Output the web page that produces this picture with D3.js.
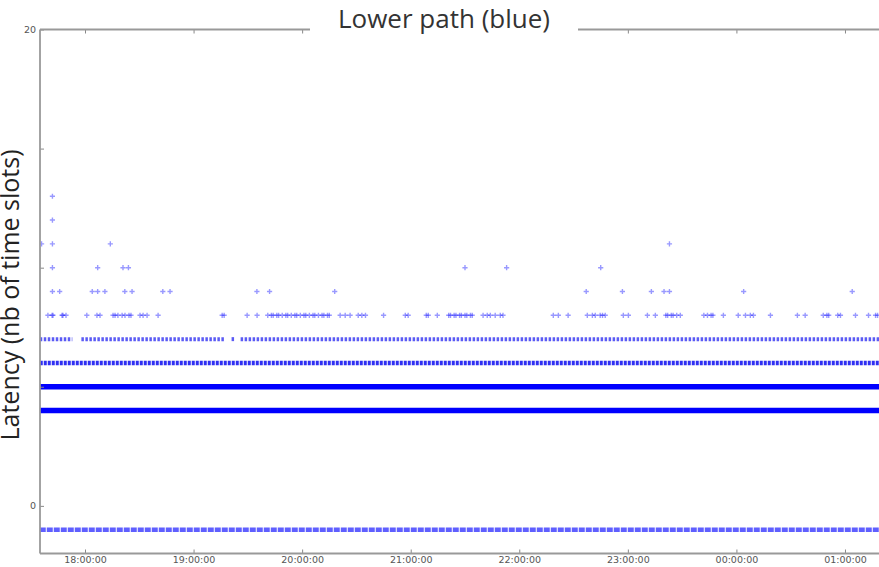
<!DOCTYPE html>
<html>
<head>
<meta charset="utf-8">
<script src="https://cdn.jsdelivr.net/npm/d3@7"></script>
<style>
  body { margin: 0; background: #fff; }
  .tick text { font-family: "DejaVu Sans", sans-serif; font-size: 9.5px; fill: #555; }
  .tick line { stroke: #888; }
  .domain { display: none; }
</style>
</head>
<body>
<div id="chart"></div>
<script>
// tick values and labels (minutes after 18:00)
var xTickMinutes = [0, 60, 120, 180, 240, 300, 360, 420];
var xTickLabels = ["18:00:00", "19:00:00", "20:00:00", "21:00:00", "22:00:00", "23:00:00", "00:00:00", "01:00:00"];
var yTickValues = [0, 5, 10, 15, 20];

// sparse latency points, minutes after 18:00 for each latency level
var lat13 = [-18];
var lat12 = [-18];
var lat11 = [-24, -18, 14, 323];
var lat10 = [-18, 7, 21, 24, 210, 233, 285];
var lat9 = [-18, -14, 4, 7, 11, 22, 26, 43, 47, 95, 102, 138, 277, 297, 313, 320, 323, 364, 424];
var lat8 = [-20.5, -18.2, -17.7, -12.7, -12.2, -10.5, 1, 6.6, 8.3, 15.5, 16.6, 18.2, 20.5, 22.1, 24.3, 25.4,
  30.4, 32.1, 34.3, 40.4, 75.8, 76.9, 89.6, 95.1,
  101, 103, 104, 106, 107, 109, 111, 112, 114, 116, 117, 119, 121, 122, 124, 126, 127, 129, 131, 132, 134, 135,
  141, 143.8, 146.5, 151, 153, 155, 165, 177, 178.6, 188.6, 189.7, 194.7,
  201, 202, 204, 205, 207, 208, 210, 211, 213, 214,
  220, 222.3, 224, 226.7, 229.5, 231, 258.8, 261.6, 267, 277.6, 280.4, 282, 284.7, 286, 287.5,
  297.5, 300.3, 310.8, 315.2, 321, 322, 324, 325, 327, 329, 342, 344, 346, 347,
  352.8, 361, 365, 367.7, 369.4, 378.8, 393.7, 398, 408, 410, 411, 416, 417.5, 425.8, 433, 436.9, 438];

// dense latency levels: runs of [start, end] minutes
var band7 = [[-25, -7], [-2, 77], [81, 83], [86, 440]];
var band6 = [[-25, 440]];
var band5 = [[-25, 440]];
var band4 = [[-25, 440]];
var bandMinus1 = [[-25, 440]];

// svg area
var svgWidth = 879;
var svgHeight = 567;
var plot = { left: 40, right: 879, top: 29.5, bottom: 553.5 };

var svg = d3.select("#chart").append("svg")
    .attr("width", svgWidth)
    .attr("height", svgHeight);

var base = new Date(2014, 0, 1, 18, 0, 0);
function toDate(m) { return new Date(base.getTime() + m * 60000); }

// scales
var xscale = d3.scaleTime()
    .domain([toDate(-24.87), toDate(438.8)])
    .range([plot.left, plot.right]);
var yscale = d3.scaleLinear()
    .domain([-2, 20])
    .range([plot.bottom, plot.top]);

svg.append("clipPath").attr("id", "clip")
  .append("rect")
    .attr("x", plot.left).attr("y", plot.top)
    .attr("width", plot.right - plot.left)
    .attr("height", plot.bottom - plot.top);

var marks = svg.append("g").attr("clip-path", "url(#clip)");

// dense bands
function drawBand(runs, level, width, color, opacity, dash) {
  marks.append("g").selectAll("line")
    .data(runs)
    .enter()
    .append("line")
    .attr("x1", d => xscale(toDate(d[0])))
    .attr("x2", d => xscale(toDate(d[1])))
    .attr("y1", yscale(level))
    .attr("y2", yscale(level))
    .attr("stroke", color)
    .attr("stroke-width", width)
    .attr("stroke-opacity", opacity)
    .attr("stroke-dasharray", dash);
}
drawBand(band4, 4, 5.5, "#0000ff", 1, null);
drawBand(band5, 5, 5.5, "#0000ff", 1, null);
drawBand(band6, 6, 4.5, "#0a0af0", 0.85, "3,1");
drawBand(band7, 7, 4, "#1515f0", 0.7, "2.5,1.5");
drawBand(bandMinus1, -1, 4.5, "#2a2aff", 0.75, "6,1");

// sparse "+" markers
var sparse = [];
[[8, lat8], [9, lat9], [10, lat10], [11, lat11], [12, lat12], [13, lat13]].forEach(function(r) {
  r[1].forEach(function(m) { sparse.push({ t: m, v: r[0] }); });
});

marks.append("g").selectAll("path")
  .data(sparse)
  .enter()
  .append("path")
  .attr("d", d => {
    var x = xscale(toDate(d.t)), y = yscale(d.v);
    return `M${x - 2.6},${y}H${x + 2.6}M${x},${y - 2.6}V${y + 2.6}`;
  })
  .attr("stroke", "#0000ff")
  .attr("stroke-width", 1.4)
  .attr("stroke-opacity", 0.4)
  .attr("fill", "none");

// axes, ticks pointing inward like matplotlib
var xAxisBottom = d3.axisBottom(xscale)
    .tickValues(xTickMinutes.map(toDate))
    .tickFormat((d, i) => xTickLabels[i])
    .tickSizeInner(-4).tickSizeOuter(0).tickPadding(3);
svg.append("g").attr("transform", `translate(0, ${plot.bottom})`).call(xAxisBottom);

var xAxisTop = d3.axisTop(xscale)
    .tickValues(xTickMinutes.map(toDate))
    .tickFormat("")
    .tickSizeInner(-4).tickSizeOuter(0);
svg.append("g").attr("transform", `translate(0, ${plot.top})`).call(xAxisTop);

var yAxis = d3.axisLeft(yscale)
    .tickValues(yTickValues)
    .tickSizeInner(-4).tickSizeOuter(0).tickPadding(4);
svg.append("g").attr("transform", `translate(${plot.left}, 0)`).call(yAxis);

// spines
svg.append("line")
    .attr("x1", plot.left).attr("x2", plot.right)
    .attr("y1", plot.top).attr("y2", plot.top)
    .attr("stroke", "#999").attr("stroke-width", 1.8);
svg.append("line")
    .attr("x1", plot.left).attr("x2", plot.right)
    .attr("y1", plot.bottom).attr("y2", plot.bottom)
    .attr("stroke", "#999").attr("stroke-width", 1.8);
svg.append("line")
    .attr("x1", plot.left).attr("x2", plot.left)
    .attr("y1", plot.top).attr("y2", plot.bottom)
    .attr("stroke", "#999").attr("stroke-width", 1.8);

// title in a white box over the top spine
svg.append("rect")
    .attr("x", 310).attr("y", 0).attr("width", 268).attr("height", 40)
    .attr("fill", "#fff");
svg.append("text")
    .attr("x", 444).attr("y", 28)
    .attr("text-anchor", "middle")
    .style("font-family", "'Open Sans', sans-serif")
    .style("font-size", "26px")
    .style("fill", "#333")
    .text("Lower path (blue)");

// y label in a white box covering the left tick labels
svg.append("rect")
    .attr("x", 0).attr("y", 40).attr("width", 37).attr("height", 410)
    .attr("fill", "#fff");
svg.append("text")
    .attr("transform", "translate(19, 295) rotate(-90)")
    .attr("text-anchor", "middle")
    .style("font-family", "'Open Sans', sans-serif")
    .style("font-size", "25px")
    .style("fill", "#222")
    .text("Latency (nb of time slots)");
</script>
</body>
</html>
